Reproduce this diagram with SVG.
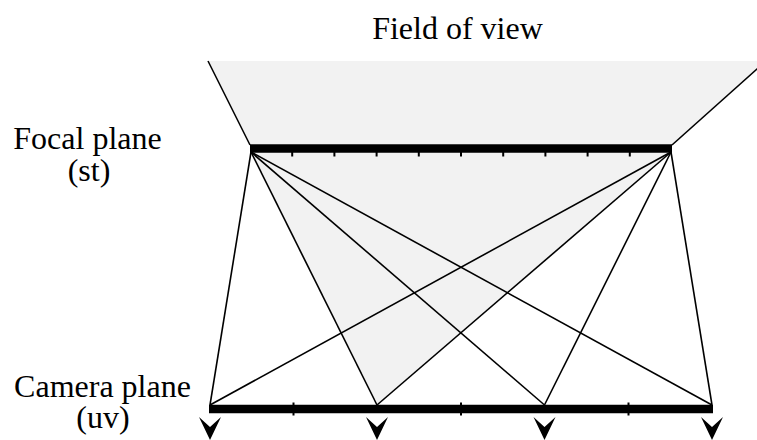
<svg xmlns="http://www.w3.org/2000/svg" width="757" height="440" viewBox="0 0 757 440">
<style>
.lbl{font-family:"Liberation Serif","Times New Roman",serif;font-size:32px;fill:#000;text-anchor:middle}
.ray{stroke:#000;stroke-width:1.6;fill:none}
.bar{stroke:#000;stroke-width:8.5;fill:none}
.tick{stroke:#000;stroke-width:2;fill:none}
.shade{fill:#f2f2f2;stroke:none}
</style>
<defs>
<path id="arrow" d="M-11,417 L0,440 L11,417 L0,427 Z" fill="#000"/>
</defs>
<rect width="757" height="440" fill="#fff"/>
<g id="field-of-view">
<polygon class="shade" points="208,61 766,61 672,144 250,144"/>
<polygon class="shade" points="251,152 671,152 377,405"/>
<line class="ray" x1="208" y1="61" x2="250" y2="145"/>
<line class="ray" x1="672" y1="145" x2="766" y2="61"/>
<text class="lbl" x="457.5" y="39">Field of view</text>
</g>
<g id="connectors">
<line class="ray" x1="251" y1="152" x2="210" y2="405"/>
<line class="ray" x1="251" y1="152" x2="377" y2="405"/>
<line class="ray" x1="251" y1="152" x2="544.5" y2="405"/>
<line class="ray" x1="251" y1="152" x2="712" y2="405"/>
<line class="ray" x1="671" y1="152" x2="210" y2="405"/>
<line class="ray" x1="671" y1="152" x2="377" y2="405"/>
<line class="ray" x1="671" y1="152" x2="544.5" y2="405"/>
<line class="ray" x1="671" y1="152" x2="712" y2="405"/>
</g>
<g id="focal-plane">
<line class="bar" x1="250" y1="148.5" x2="672" y2="148.5"/>
<g class="tick">
<line x1="292.2" y1="152" x2="292.2" y2="156.5"/>
<line x1="334.4" y1="152" x2="334.4" y2="156.5"/>
<line x1="376.6" y1="152" x2="376.6" y2="156.5"/>
<line x1="418.8" y1="152" x2="418.8" y2="156.5"/>
<line x1="461" y1="152" x2="461" y2="156.5"/>
<line x1="503.2" y1="152" x2="503.2" y2="156.5"/>
<line x1="545.4" y1="152" x2="545.4" y2="156.5"/>
<line x1="587.6" y1="152" x2="587.6" y2="156.5"/>
<line x1="629.8" y1="152" x2="629.8" y2="156.5"/>
</g>
<text class="lbl" x="87.5" y="149">Focal plane</text>
<text class="lbl" x="89" y="181">(st)</text>
</g>
<g id="camera-plane">
<line class="bar" x1="209" y1="409" x2="713" y2="409"/>
<g class="tick">
<line x1="293.5" y1="402.5" x2="293.5" y2="415.5"/>
<line x1="461" y1="402.5" x2="461" y2="415.5"/>
<line x1="628.5" y1="402.5" x2="628.5" y2="415.5"/>
</g>
<use href="#arrow" x="210" y="0"/>
<use href="#arrow" x="377" y="0"/>
<use href="#arrow" x="544.5" y="0"/>
<use href="#arrow" x="712" y="0"/>
<text class="lbl" x="102.5" y="397">Camera plane</text>
<text class="lbl" x="103" y="428">(uv)</text>
</g>
</svg>
